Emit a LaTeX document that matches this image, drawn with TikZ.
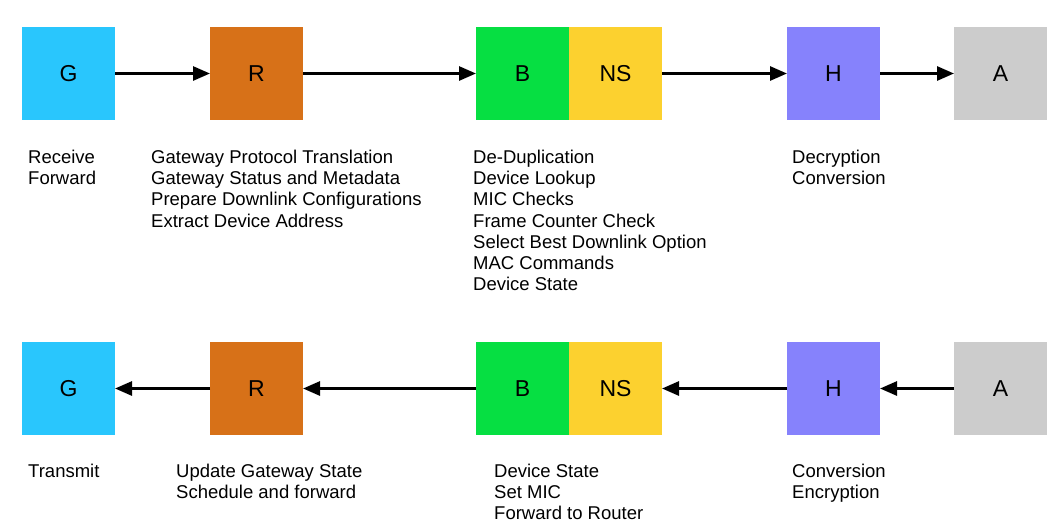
\documentclass[tikz,border=0pt]{standalone}
\usepackage{fontspec}
\setmainfont{Liberation Sans}
\usetikzlibrary{positioning}
\usetikzlibrary{arrows.meta}
\definecolor{cgw}{RGB}{41,198,253}
\definecolor{crt}{RGB}{215,113,24}
\definecolor{cbr}{RGB}{6,223,66}
\definecolor{cns}{RGB}{252,209,47}
\definecolor{chd}{RGB}{134,130,252}
\definecolor{capp}{RGB}{204,204,204}
\tikzset{
  blk/.style={minimum size=93pt, inner sep=0pt, outer sep=0pt, font=\fontsize{23}{27}\selectfont},
  txt/.style={anchor=north west, align=left, inner sep=0pt, font=\fontsize{18.5}{21.3}\selectfont},
  arr/.style={-{Triangle[length=17pt,width=14pt]}, line width=2.8pt}
}

\begin{document}
\begin{tikzpicture}[x=1pt, y=-1pt]
    \useasboundingbox (0,0) rectangle (1056,528);
    % uplink
    \node [blk, fill=cgw] (gu) at (68.5, 73.5) {G};
    \node [blk, fill=crt, right=95pt of gu] (ru) {R};
    \node [blk, fill=cbr, right=173pt of ru] (bu) {B};
    \node [blk, fill=cns, right=0pt of bu] (nsu) {NS};
    \node [blk, fill=chd, right=125pt of nsu] (hu) {H};
    \node [blk, fill=capp, right=74pt of hu] (au) {A};

    % downlink
    \node [blk, fill=cgw, below=222pt of gu] (gd) {G};
    \node [blk, fill=crt, below=222pt of ru] (rd) {R};
    \node [blk, fill=cbr, below=222pt of bu] (bd) {B};
    \node [blk, fill=cns, below=222pt of nsu] (nsd) {NS};
    \node [blk, fill=chd, below=222pt of hu] (hd) {H};
    \node [blk, fill=capp, below=222pt of au] (ad) {A};

    \draw [arr] (gu) -- (ru);
    \draw [arr] (ru) -- (bu);
    \draw [arr] (nsu) -- (hu);
    \draw [arr] (hu) -- (au);

    \draw [arr] (rd) -- (gd);
    \draw [arr] (bd) -- (rd);
    \draw [arr] (hd) -- (nsd);
    \draw [arr] (ad) -- (hd);

    \node [txt] (gu_text) at (28, 149.5) {Receive\\Forward};
    \node [txt] (ru_text) at (151, 149.5) {Gateway Protocol Translation\\Gateway Status and Metadata\\Prepare Downlink Configurations\\Extract Device Address};
    \node [txt] (bu_text) at (473, 149.5) {De-Duplication\\Device Lookup\\MIC Checks\\Frame Counter Check\\Select Best Downlink Option\\MAC Commands\\Device State};
    \node [txt] (hu_text) at (792, 149.5) {Decryption\\Conversion};

    \node [txt] (gd_text) at (28, 463.5) {Transmit};
    \node [txt] (rd_text) at (176, 463.5) {Update Gateway State\\Schedule and forward};
    \node [txt] (bd_text) at (494, 463.5) {Device State\\Set MIC\\Forward to Router};
    \node [txt] (hd_text) at (792, 463.5) {Conversion\\Encryption};
\end{tikzpicture}
\end{document}
